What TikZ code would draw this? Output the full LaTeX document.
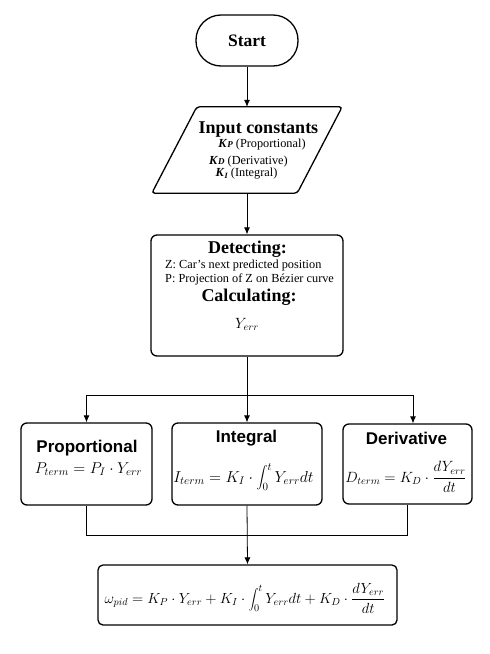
\documentclass[tikz,border=0pt]{standalone}
\usepackage{graphicx}
\usepackage{fontspec}
\setmainfont{Liberation Serif}
\newfontfamily\arialfont{Liberation Sans}
\usetikzlibrary{arrows.meta}
\newcommand{\kconst}[1]{\textbf{\textit{K}}{\fontsize{9}{9}\selectfont\textbf{\textit{#1}}}}
\newcommand{\kconstsub}[1]{\textbf{\textit{K}}\raisebox{-2.5pt}{\fontsize{8}{8}\selectfont\textbf{\textit{#1}}}}
\newcommand{\mymath}[2]{\scalebox{#1}{$\displaystyle #2$}}
\begin{document}
\begin{tikzpicture}[x=1pt,y=-1pt,
  box/.style={draw, line width=1.3pt, rounded corners=6pt, fill=white, inner sep=0pt},
  conn/.style={line width=0.8pt},
  arr/.style={conn, -{Latex[length=7pt,width=6pt]}},
  txt/.style={inner sep=0pt, anchor=base},
  titlefont/.style={font=\fontsize{18}{20}\selectfont\bfseries},
  bodyfont/.style={font=\fontsize{12.3}{14}\selectfont},
  sanstitle/.style={font=\arialfont\fontsize{17}{20}\selectfont\bfseries},
  mathfont/.style={font=\fontsize{14.4}{17}\selectfont}]
\fill[white] (0,0) rectangle (490,654);
\useasboundingbox (0,0) rectangle (490,654);

% Start
\node[box, rounded corners=25pt, minimum width=102pt, minimum height=51pt,
      font=\fontsize{17.5}{20}\selectfont\bfseries] (start) at (247,40.5) {Start};

% Input constants (parallelogram)
\node[inner sep=0pt, minimum width=190pt, minimum height=86pt] (inp) at (247,150) {};
\draw[line width=1.3pt, rounded corners=3pt, fill=white]
  ([xshift=45pt]inp.north west) -- (inp.north east) -- ([xshift=-45pt]inp.south east)
  -- (inp.south west) -- cycle;
\node[txt, titlefont] (inp1) at (258.5,133) {Input constants};
\node[txt, bodyfont] (inp2) at (262,147) {\kconst{P} (Proportional)};
\node[txt, bodyfont] (inp3) at (248.5,164) {\kconst{D} (Derivative)};
\node[txt, bodyfont] (inp4) at (246.5,176) {\kconstsub{I} (Integral)};

% Detecting / Calculating
\node[box, minimum width=192pt, minimum height=121pt] (det) at (247,295.5) {};
\node[txt, titlefont] (det1) at (247.5,253) {Detecting:};
\node[txt, bodyfont, anchor=base west] (det2) at (165,268) {Z: Car's next predicted position};
\node[txt, bodyfont, anchor=base west] (det3) at (165,282) {P: Projection of Z on Bézier curve};
\node[txt, titlefont] (det4) at (249,301) {Calculating:};
\node[txt, mathfont] (det5) at (247,328) {\mymath{1.03}{Y_{err}}};

% Three term boxes
\node[box, minimum width=131pt, minimum height=82pt] (prop) at (86.5,464) {};
\node[box, minimum width=150pt, minimum height=82pt] (int) at (247,464) {};
\node[box, minimum width=129pt, minimum height=80pt] (der) at (407.5,464) {};

\node[txt, sanstitle] (p1) at (87,452) {Proportional};
\node[txt, mathfont] (p2) at (88.5,473) {\mymath{1.09}{P_{term} = P_I \cdot Y_{err}}};
\node[txt, sanstitle] (i1) at (246.5,442) {Integral};
\node[txt, mathfont] (i2) at (243.5,482) {\mymath{1.1}{I_{term} = K_I \cdot \int_0^t Y_{err} dt}};
\node[txt, sanstitle] (d1) at (406.5,444) {Derivative};
\node[txt, mathfont] (d2) at (406,482) {\mymath{1.03}{D_{term} = K_D \cdot \frac{dY_{err}}{dt}}};

% Final box
\node[box, rounded corners=5pt, minimum width=299pt, minimum height=60pt] (final) at (247.5,595) {};
\node[txt, mathfont] (f1) at (245,603) {\mymath{1.02}{\omega_{pid} = K_P \cdot Y_{err} + K_I \cdot \int_0^t Y_{err} dt + K_D \cdot \frac{dY_{err}}{dt}}};

% Connectors
\coordinate (split) at (247,395);
\coordinate (join) at (247,535);
\coordinate (dtop) at ([xshift=5.5pt]der.north);
\draw[arr] (start.south) -- (inp.north);
\draw[arr] (inp.south) -- (det.north);
\draw[arr] (det.south) -- (int.north);
\draw[conn] (prop.north |- split) -- (dtop |- split);
\draw[arr] (prop.north |- split) -- (prop.north);
\draw[arr] (dtop |- split) -- (dtop);
\draw[conn] (prop.south) -- (prop.south |- join) -- (der.south |- join) -- (der.south);
\draw[arr] (int.south) -- (final.north);
\end{tikzpicture}
\end{document}
